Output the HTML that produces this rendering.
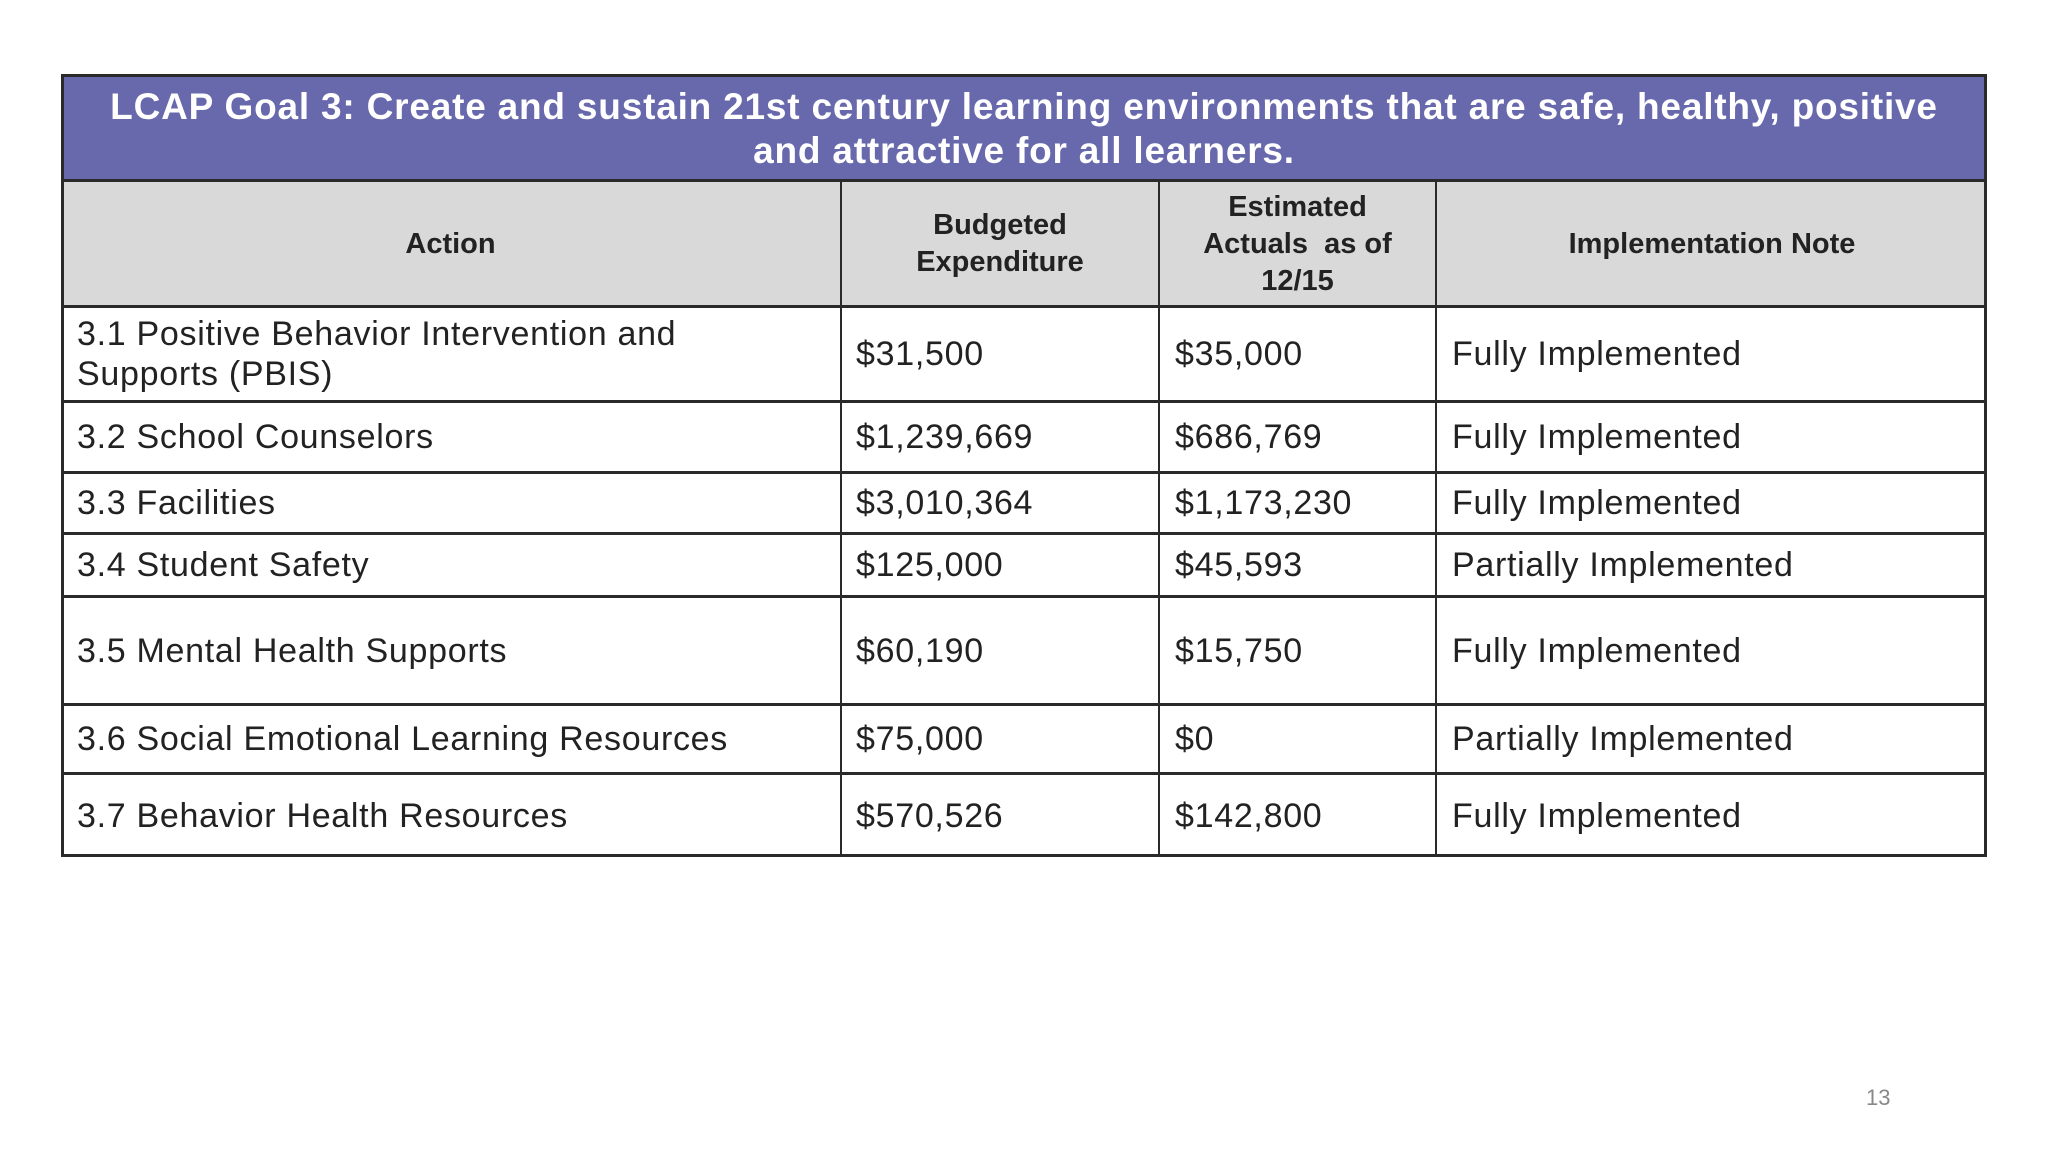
<!DOCTYPE html>
<html><head><meta charset="utf-8"><style>
body{margin:0;width:2048px;height:1151px;background:#fff;position:relative;overflow:hidden;font-family:"Liberation Sans",sans-serif;}
.t{position:absolute;left:61px;top:74px;width:1926px;height:783px;border:3px solid #2a2a2a;box-sizing:border-box;}
.title{position:absolute;left:61px;top:74px;width:1926px;height:108px;background:#6868ac;border:3px solid #2a2a2a;box-sizing:border-box;color:#fff;font-weight:bold;font-size:37px;text-align:center;line-height:44px;padding-top:8px;letter-spacing:0.8px}
.hdr{position:absolute;left:61px;top:182px;width:1926px;height:124px;background:#d9d9d9;}
.h{position:absolute;height:3px;background:#2a2a2a;left:61px;width:1926px}
.v{position:absolute;width:2px;background:#2a2a2a;top:182px;height:675px}
.c{position:absolute;font-size:34px;color:#222;line-height:40px;display:flex;align-items:center;letter-spacing:0.7px}
.hc{position:absolute;font-size:29px;font-weight:bold;color:#222;text-align:center;line-height:37px;display:flex;align-items:center;justify-content:center;top:182px;height:124px}
</style></head><body>
<div class="hdr"></div>
<div class="title">LCAP Goal 3: Create and sustain 21st century learning environments that are safe, healthy, positive<br>and attractive for all learners.</div>
<div class="t"></div>
<div class="h" style="top:305px"></div>
<div class="h" style="top:400px"></div>
<div class="h" style="top:471px"></div>
<div class="h" style="top:532px"></div>
<div class="h" style="top:595px"></div>
<div class="h" style="top:703px"></div>
<div class="h" style="top:772px"></div>
<div class="v" style="left:840px"></div>
<div class="v" style="left:1158px"></div>
<div class="v" style="left:1435px"></div>
<div class="hc" style="left:61px;width:779px">Action</div>
<div class="hc" style="left:842px;width:316px">Budgeted<br>Expenditure</div>
<div class="hc" style="left:1160px;width:275px">Estimated<br>Actuals&nbsp; as of<br>12/15</div>
<div class="hc" style="left:1437px;width:550px">Implementation Note</div>

<div class="c" style="left:77px;top:308px;height:92px">3.1 Positive Behavior Intervention and<br>Supports (PBIS)</div>
<div class="c" style="left:856px;top:308px;height:92px">$31,500</div>
<div class="c" style="left:1175px;top:308px;height:92px">$35,000</div>
<div class="c" style="left:1452px;top:308px;height:92px">Fully Implemented</div>

<div class="c" style="left:77px;top:403px;height:68px">3.2 School Counselors</div>
<div class="c" style="left:856px;top:403px;height:68px">$1,239,669</div>
<div class="c" style="left:1175px;top:403px;height:68px">$686,769</div>
<div class="c" style="left:1452px;top:403px;height:68px">Fully Implemented</div>

<div class="c" style="left:77px;top:474px;height:58px">3.3 Facilities</div>
<div class="c" style="left:856px;top:474px;height:58px">$3,010,364</div>
<div class="c" style="left:1175px;top:474px;height:58px">$1,173,230</div>
<div class="c" style="left:1452px;top:474px;height:58px">Fully Implemented</div>

<div class="c" style="left:77px;top:535px;height:60px">3.4 Student Safety</div>
<div class="c" style="left:856px;top:535px;height:60px">$125,000</div>
<div class="c" style="left:1175px;top:535px;height:60px">$45,593</div>
<div class="c" style="left:1452px;top:535px;height:60px">Partially Implemented</div>

<div class="c" style="left:77px;top:598px;height:105px">3.5 Mental Health Supports</div>
<div class="c" style="left:856px;top:598px;height:105px">$60,190</div>
<div class="c" style="left:1175px;top:598px;height:105px">$15,750</div>
<div class="c" style="left:1452px;top:598px;height:105px">Fully Implemented</div>

<div class="c" style="left:77px;top:706px;height:66px">3.6 Social Emotional Learning Resources</div>
<div class="c" style="left:856px;top:706px;height:66px">$75,000</div>
<div class="c" style="left:1175px;top:706px;height:66px">$0</div>
<div class="c" style="left:1452px;top:706px;height:66px">Partially Implemented</div>

<div class="c" style="left:77px;top:775px;height:82px">3.7 Behavior Health Resources</div>
<div class="c" style="left:856px;top:775px;height:82px">$570,526</div>
<div class="c" style="left:1175px;top:775px;height:82px">$142,800</div>
<div class="c" style="left:1452px;top:775px;height:82px">Fully Implemented</div>

<div style="position:absolute;left:1866px;top:1085px;font-size:22px;color:#888">13</div>
</body></html>
